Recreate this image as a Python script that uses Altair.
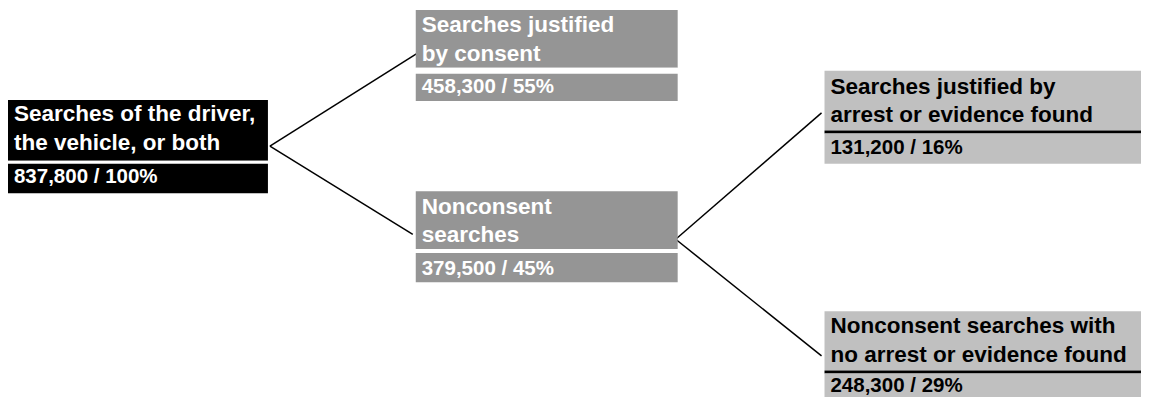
import altair as alt
import pandas as pd

# ---------------- data ----------------
node_ids = ["all", "consent", "nonconsent", "justified", "unjustified"]
node_parents = [None, "all", "all", "nonconsent", "nonconsent"]
node_label_lines = [
    ["Searches of the driver,", "the vehicle, or both"],
    ["Searches justified", "by consent"],
    ["Nonconsent", "searches"],
    ["Searches justified by", "arrest or evidence found"],
    ["Nonconsent searches with", "no arrest or evidence found"],
]
node_counts = [837800, 458300, 379500, 131200, 248300]
node_percents = [100, 55, 45, 16, 29]

# ---------------- layout (reference pixel space) ----------------
LAYOUT = {
    "all":        dict(x0=7,   x1=269,  top=102,   mid0=164, mid1=167, bottom=197, lines=[123, 153], vbase=187, inp=None,       out=(271, 149)),
    "consent":    dict(x0=418, x1=682,  top=10,    mid0=69,  mid1=75,  bottom=103, lines=[33, 62],   vbase=95,  inp=(423, 52),  out=None),
    "nonconsent": dict(x0=418, x1=682,  top=195,   mid0=254, mid1=258, bottom=288, lines=[218, 247], vbase=280, inp=(415, 239), out=(680, 244)),
    "justified":  dict(x0=830, x1=1149, top=72,    mid0=133, mid1=136, bottom=167, lines=[96, 124],  vbase=157, inp=(827, 115), out=None),
    "unjustified":dict(x0=830, x1=1149, top=317.5, mid0=378, mid1=381, bottom=405, lines=[340, 369], vbase=400, inp=(827, 363), out=None),
}
STYLE = {
    "all":        dict(fill="#000000", text="#ffffff", gap="#ffffff"),
    "consent":    dict(fill="#959595", text="#ffffff", gap="#ffffff"),
    "nonconsent": dict(fill="#959595", text="#ffffff", gap="#ffffff"),
    "justified":  dict(fill="#c0c0c0", text="#000000", gap="#000000"),
    "unjustified":dict(fill="#c0c0c0", text="#000000", gap="#000000"),
}
TEXT_PAD = 6

boxes, labels, values, links = [], [], [], []
for nid, parent, lines, cnt, pct in zip(node_ids, node_parents, node_label_lines, node_counts, node_percents):
    L, S = LAYOUT[nid], STYLE[nid]
    boxes.append(dict(x=L["x0"], x2=L["x1"], y=L["top"], y2=L["mid0"], c=S["fill"]))
    boxes.append(dict(x=L["x0"], x2=L["x1"], y=L["mid0"], y2=L["mid1"], c=S["gap"]))
    boxes.append(dict(x=L["x0"], x2=L["x1"], y=L["mid1"], y2=L["bottom"], c=S["fill"]))
    for txt, base in zip(lines, L["lines"]):
        labels.append(dict(x=L["x0"] + TEXT_PAD, y=base, t=txt, c=S["text"]))
    values.append(dict(x=L["x0"] + TEXT_PAD, y=L["vbase"], t=f"{cnt:,} / {pct}%", c=S["text"]))
    if parent is not None:
        px, py = LAYOUT[parent]["out"]
        cx, cy = L["inp"]
        links.append(dict(x=px, y=py, x2=cx, y2=cy))

W, H = 1133, 389
xs = alt.Scale(domain=[7, 1149], nice=False, zero=False)
ys = alt.Scale(domain=[405, 8], nice=False, zero=False)

def X(f="x"):
    return alt.X(f"{f}:Q", scale=xs, axis=None)

def Y(f="y"):
    return alt.Y(f"{f}:Q", scale=ys, axis=None)

rects = alt.Chart(pd.DataFrame(boxes)).mark_rect().encode(
    x=X(), x2="x2:Q", y=Y(), y2="y2:Q", color=alt.Color("c:N", scale=None)
)
rules = alt.Chart(pd.DataFrame(links)).mark_rule(color="black", strokeWidth=1.5).encode(
    x=X(), x2="x2:Q", y=Y(), y2="y2:Q"
)
label_text = alt.Chart(pd.DataFrame(labels)).mark_text(
    align="left", baseline="alphabetic", font="Liberation Sans", fontWeight="bold", fontSize=22.5
).encode(x=X(), y=Y(), text="t:N", color=alt.Color("c:N", scale=None))
value_text = alt.Chart(pd.DataFrame(values)).mark_text(
    align="left", baseline="alphabetic", font="Liberation Sans", fontWeight="bold", fontSize=20.5
).encode(x=X(), y=Y(), text="t:N", color=alt.Color("c:N", scale=None))

chart = alt.layer(rules, rects, label_text, value_text).properties(
    width=W, height=H, padding=0, background="white",
    autosize=alt.AutoSizeParams(type="none")
).configure_view(stroke=None)

chart.save("out.html", embed_options={"renderer": "svg", "actions": False})
